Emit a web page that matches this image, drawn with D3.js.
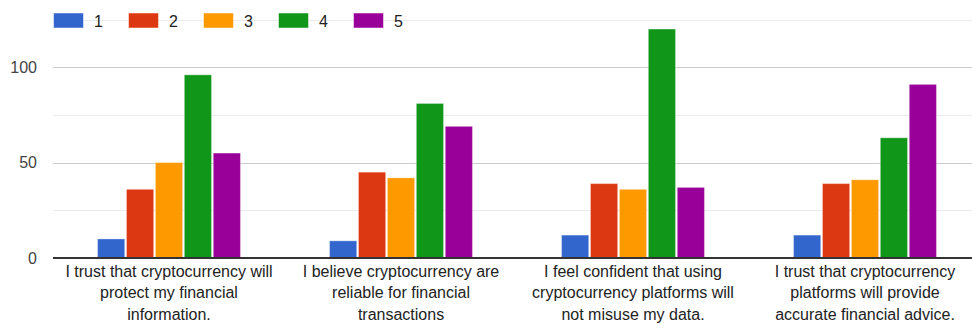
<!DOCTYPE html>
<html>
<head>
<meta charset="utf-8">
<script src="https://cdn.jsdelivr.net/npm/d3@7"></script>
<style>
  html, body { margin: 0; padding: 0; background: #fff; }
  svg { display: block; font-family: "Liberation Sans", Arial, sans-serif; }
</style>
</head>
<body>
<svg id="chart" width="972" height="324"></svg>
<script>
// Survey statements (each entry is the wrapped lines of one x-axis label)
const categories = [
  ["I trust that cryptocurrency will", "protect my financial", "information."],
  ["I believe cryptocurrency are", "reliable for financial", "transactions"],
  ["I feel confident that using", "cryptocurrency platforms will", "not misuse my data."],
  ["I trust that cryptocurrency", "platforms will provide", "accurate financial advice."]
];

// Likert answer options
const seriesNames = ["1", "2", "3", "4", "5"];
const seriesColors = ["#3366cc", "#dc3912", "#ff9900", "#109618", "#990099"];

// Response counts per statement, one array per answer option
const rating1 = [10, 9, 12, 12];
const rating2 = [36, 45, 39, 39];
const rating3 = [50, 42, 36, 41];
const rating4 = [96, 81, 120, 63];
const rating5 = [55, 69, 37, 91];

const yTicks = [0, 50, 100];
const yGrid = [0, 25, 50, 75, 100, 125];

const seriesValues = [rating1, rating2, rating3, rating4, rating5];

const svg = d3.select("#chart");
const plot = { left: 53, right: 981, top: 19.5, bottom: 258 };

const x0 = d3.scaleBand()
  .domain(d3.range(categories.length))
  .range([plot.left, plot.right])
  .paddingInner(0.384)
  .paddingOuter(0.192);

const x1 = d3.scaleBand()
  .domain(seriesNames)
  .range([0, x0.bandwidth()])
  .paddingInner(0.06);

const y = d3.scaleLinear()
  .domain([0, 125])
  .range([plot.bottom, plot.top]);

const color = d3.scaleOrdinal().domain(seriesNames).range(seriesColors);

// Gridlines
svg.append("g")
  .selectAll("line")
  .data(yGrid)
  .join("line")
  .attr("x1", plot.left)
  .attr("x2", 972)
  .attr("y1", d => Math.round(y(d)) + 0.5)
  .attr("y2", d => Math.round(y(d)) + 0.5)
  .attr("stroke", d => d % 50 === 0 ? "#cccccc" : "#ebebeb")
  .attr("stroke-width", 1);

// Y-axis labels
const yAxis = d3.axisLeft(y).tickValues(yTicks).tickSize(0).tickPadding(0);
const yAxisG = svg.append("g")
  .attr("transform", `translate(37,0)`)
  .call(yAxis);
yAxisG.select(".domain").remove();
yAxisG.selectAll("text")
  .attr("font-size", 16)
  .attr("font-family", "Liberation Sans, Arial, sans-serif")
  .attr("fill", "#444");

// Legend
const legend = svg.append("g");
const legendItem = legend.selectAll("g")
  .data(seriesNames)
  .join("g")
  .attr("transform", (d, i) => `translate(${53.5 + i * 75},0)`);
legendItem.append("rect")
  .attr("x", 0)
  .attr("y", 13)
  .attr("width", 30)
  .attr("height", 15)
  .attr("fill", d => color(d))
  .attr("stroke", "#fff")
  .attr("stroke-opacity", 0.5)
  .attr("stroke-width", 1);
legendItem.append("text")
  .attr("x", 40.5)
  .attr("y", 27)
  .attr("font-size", 16)
  .attr("fill", "#222")
  .text(d => d);

// Bars
const groups = svg.append("g")
  .selectAll("g")
  .data(categories.map((c, i) => i))
  .join("g")
  .attr("transform", i => `translate(${x0(i)},0)`);

groups.selectAll("rect")
  .data(i => seriesNames.map((s, k) => ({ key: s, value: seriesValues[k][i] })))
  .join("rect")
  .attr("x", d => x1(d.key))
  .attr("y", d => y(d.value))
  .attr("width", x1.bandwidth())
  .attr("height", d => plot.bottom - y(d.value))
  .attr("fill", d => color(d.key))
  .attr("stroke", "#ffffff")
  .attr("stroke-opacity", 0.35)
  .attr("stroke-width", 1);

// Baseline
svg.append("line")
  .attr("x1", plot.left)
  .attr("x2", 972)
  .attr("y1", plot.bottom)
  .attr("y2", plot.bottom)
  .attr("stroke", "#333")
  .attr("stroke-width", 2);

// X-axis labels
const xLabels = svg.append("g")
  .selectAll("text")
  .data(categories)
  .join("text")
  .attr("text-anchor", "middle")
  .attr("font-size", 16)
  .attr("fill", "#222")
  .attr("transform", (d, i) => `translate(${x0(i) + x0.bandwidth() / 2},0)`);

xLabels.selectAll("tspan")
  .data(d => d)
  .join("tspan")
  .attr("x", 0)
  .attr("y", (d, j) => 277 + j * 21.3)
  .text(d => d);
</script>
</body>
</html>
